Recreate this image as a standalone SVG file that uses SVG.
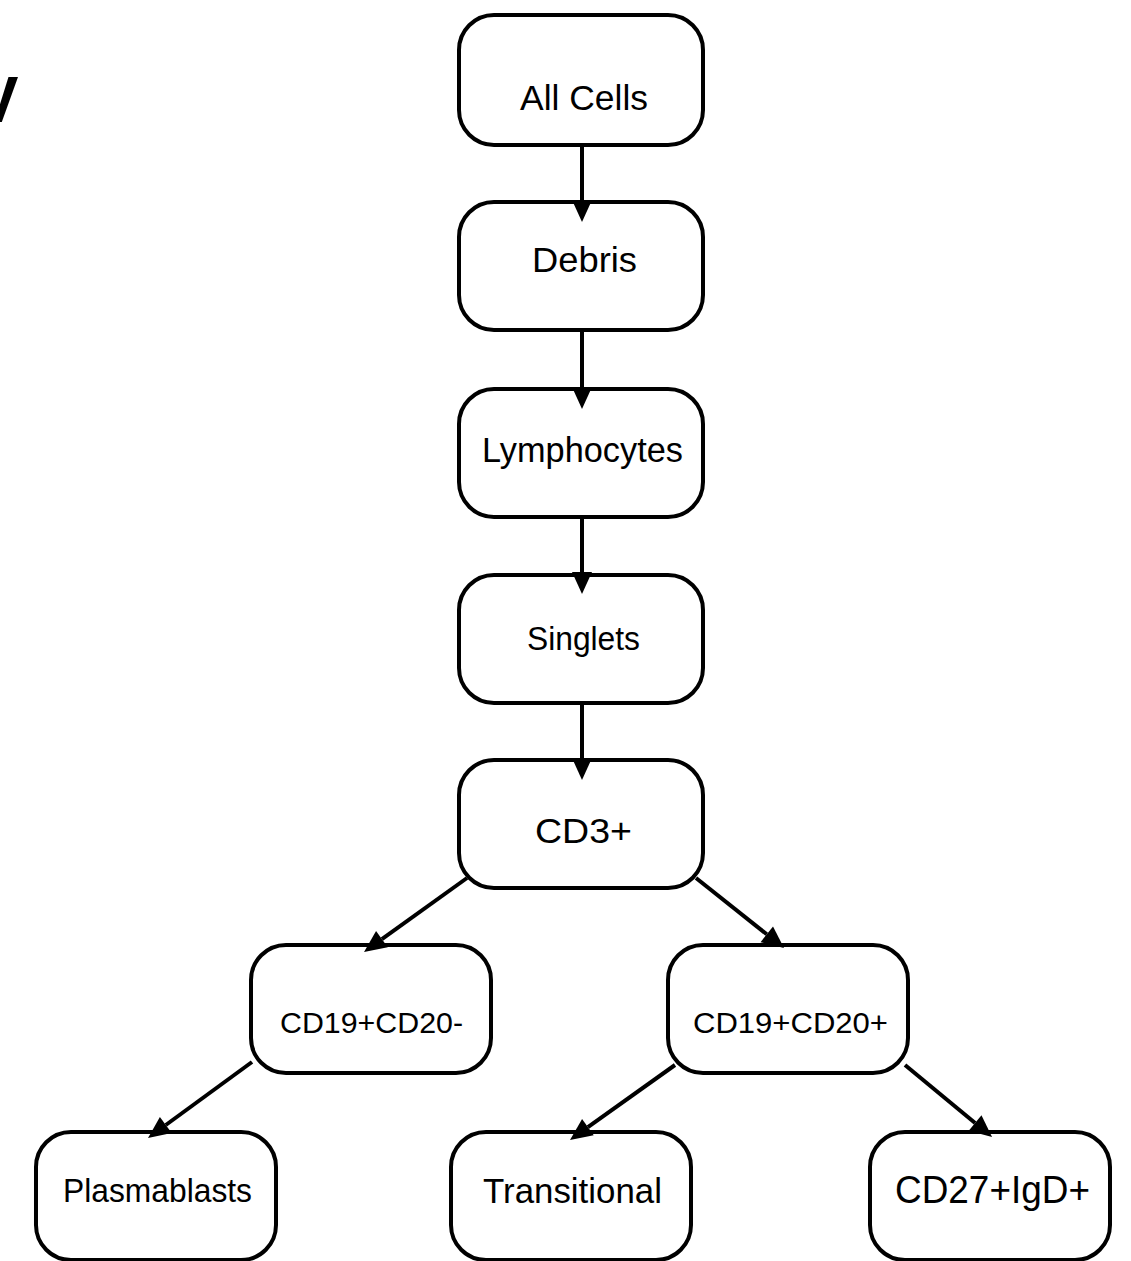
<svg xmlns="http://www.w3.org/2000/svg" width="1131" height="1261" viewBox="0 0 1131 1261">
  <style>
    .box { fill: #ffffff; stroke: #000000; stroke-width: 4; }
    .lbl { font-family: "Liberation Sans", Arial, sans-serif; fill: #000000; text-anchor: middle; }
    .edge { stroke: #000000; stroke-width: 4; fill: none; }
  </style>
  <defs>
    <marker id="arrow" markerUnits="userSpaceOnUse" markerWidth="24" markerHeight="24" refX="0" refY="11" orient="auto" overflow="visible">
      <path d="M0,1 L22,11 L0,21 Z" fill="#000000"/>
    </marker>
  </defs>
  <rect width="1131" height="1261" fill="#ffffff"/>

  <text class="lbl" x="-3" y="122" font-size="64" font-weight="bold">V</text>

  <g id="n-allcells">
    <rect class="box" x="459" y="15" width="244" height="130" rx="35"/>
    <text class="lbl" x="584" y="110" font-size="35" textLength="128" lengthAdjust="spacingAndGlyphs">All Cells</text>
  </g>
  <g id="n-debris">
    <rect class="box" x="459" y="202" width="244" height="128" rx="35"/>
    <text class="lbl" x="584.5" y="272" font-size="35" textLength="105" lengthAdjust="spacingAndGlyphs">Debris</text>
  </g>
  <g id="n-lymphocytes">
    <rect class="box" x="459" y="389" width="244" height="128" rx="35"/>
    <text class="lbl" x="582.5" y="462" font-size="35" textLength="201" lengthAdjust="spacingAndGlyphs">Lymphocytes</text>
  </g>
  <g id="n-singlets">
    <rect class="box" x="459" y="575" width="244" height="128" rx="35"/>
    <text class="lbl" x="583.5" y="650" font-size="34" textLength="113" lengthAdjust="spacingAndGlyphs">Singlets</text>
  </g>
  <g id="n-cd3">
    <rect class="box" x="459" y="760" width="244" height="128" rx="35"/>
    <text class="lbl" x="583.5" y="843" font-size="35" textLength="97" lengthAdjust="spacingAndGlyphs">CD3+</text>
  </g>
  <g id="n-cd19-cd20neg">
    <rect class="box" x="251" y="945" width="240" height="128" rx="35"/>
    <text class="lbl" x="371.5" y="1033" font-size="30" textLength="183" lengthAdjust="spacingAndGlyphs">CD19+CD20-</text>
  </g>
  <g id="n-cd19-cd20pos">
    <rect class="box" x="668" y="945" width="240" height="128" rx="35"/>
    <text class="lbl" x="790.5" y="1033" font-size="30" textLength="195" lengthAdjust="spacingAndGlyphs">CD19+CD20+</text>
  </g>
  <g id="n-plasmablasts">
    <rect class="box" x="36" y="1132" width="240" height="128" rx="35"/>
    <text class="lbl" x="157.5" y="1202" font-size="34" textLength="189" lengthAdjust="spacingAndGlyphs">Plasmablasts</text>
  </g>
  <g id="n-transitional">
    <rect class="box" x="451" y="1132" width="240" height="128" rx="35"/>
    <text class="lbl" x="572.5" y="1203" font-size="35" textLength="179" lengthAdjust="spacingAndGlyphs">Transitional</text>
  </g>
  <g id="n-cd27-igd">
    <rect class="box" x="870" y="1132" width="240" height="128" rx="35"/>
    <text class="lbl" x="992.5" y="1203" font-size="38" textLength="195" lengthAdjust="spacingAndGlyphs">CD27+IgD+</text>
  </g>

  <g id="connectors">
    <line class="edge" x1="582" y1="147" x2="582" y2="200" marker-end="url(#arrow)"/>
    <line class="edge" x1="582" y1="332" x2="582" y2="387" marker-end="url(#arrow)"/>
    <line class="edge" x1="582" y1="519" x2="582" y2="572" marker-end="url(#arrow)"/>
    <line class="edge" x1="582" y1="705" x2="582" y2="758" marker-end="url(#arrow)"/>
    <line class="edge" x1="467" y1="878" x2="381.9" y2="939.2" marker-end="url(#arrow)"/>
    <line class="edge" x1="696" y1="878" x2="766.8" y2="934.3" marker-end="url(#arrow)"/>
    <line class="edge" x1="252" y1="1062" x2="165.8" y2="1125" marker-end="url(#arrow)"/>
    <line class="edge" x1="675" y1="1065" x2="587.9" y2="1127.2" marker-end="url(#arrow)"/>
    <line class="edge" x1="905" y1="1065" x2="975.1" y2="1123" marker-end="url(#arrow)"/>
  </g>
</svg>
